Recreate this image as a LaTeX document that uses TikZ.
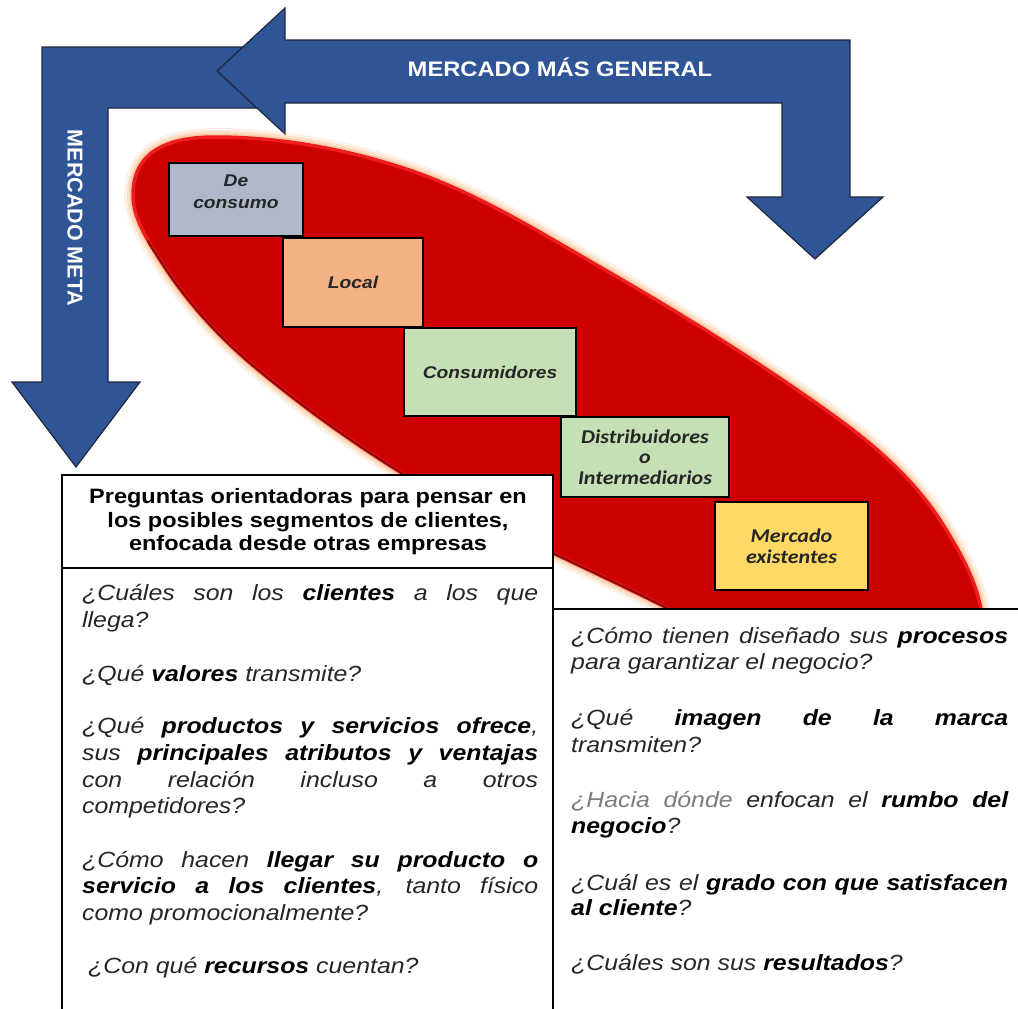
\documentclass[tikz,border=0pt]{standalone}
\usepackage{fontspec}
\newfontfamily\sx[FakeStretch=1.13]{Liberation Sans}
\newfontfamily\sxplain{Liberation Sans}
\newfontfamily\cx[FakeStretch=1.13]{Carlito}
\definecolor{arrowblue}{RGB}{47,85,151}
\definecolor{arrowline}{RGB}{30,40,60}
\definecolor{ovalred}{RGB}{204,0,0}
\definecolor{ovalrim}{RGB}{238,28,28}
\definecolor{ovalshade}{RGB}{110,0,0}
\definecolor{glow}{RGB}{250,185,135}
\definecolor{boxgray}{RGB}{173,185,202}
\definecolor{boxorange}{RGB}{244,177,131}
\definecolor{boxgreen}{RGB}{197,224,180}
\definecolor{boxyellow}{RGB}{255,217,102}
\definecolor{ink}{RGB}{38,38,38}
\definecolor{softink}{RGB}{125,125,125}
% a line of given width (pt) with its spaces stretched
\newcommand\jl[2]{\makebox[#1pt][s]{#2}}
% bold key words
\newcommand\hl[1]{\textbf{\color{black}#1}}
\begin{document}
\begin{tikzpicture}[x=1pt,y=-1pt,
  bluearrow/.style={fill=arrowblue, draw=arrowline, line width=1.2pt, line join=miter},
  segbox/.style={draw=black, line width=1.3pt, inner sep=0pt, align=center, text=ink},
  armfont/.style={font=\sx\bfseries\itshape\fontsize{17}{22}\selectfont},
  calfont/.style={font=\cx\bfseries\itshape\fontsize{19.5}{20.5}\selectfont},
  qframe/.style={draw=black, line width=2.4pt, fill=white},
  qline/.style={anchor=base west, inner sep=0pt, text=ink, font=\sx\itshape\fontsize{22}{26.7}\selectfont},
  headline/.style={anchor=base, inner sep=0pt, text=black, font=\sx\bfseries\fontsize{20.8}{23.5}\selectfont}]
\useasboundingbox (0,0) rectangle (1018,1009);
\clip (0,0) rectangle (1018,1009);

% ---- blue arrows ----
\draw[bluearrow] (42,47) -- (262,47) -- (262,108) -- (108,108) -- (108,382)
  -- (140,382) -- (76,467) -- (12,382) -- (42,382) -- cycle;
\draw[bluearrow] (217,71) -- (285,8) -- (285,40) -- (850,40) -- (850,197)
  -- (883,197) -- (815,259) -- (747,197) -- (782,197) -- (782,103)
  -- (285,103) -- (285,134) -- cycle;
\node[font=\sx\bfseries\fontsize{21}{21}\selectfont, text=white, inner sep=0pt] (general) at (560,67) {MERCADO MÁS GENERAL};
\node[rotate=-90, font=\sxplain\bfseries\fontsize{21.5}{21.5}\selectfont, text=white, inner sep=0pt] (meta) at (75,218) {MERCADO META};

% ---- red oval ----
\path[save path=\ovalp] (133,195)
  .. controls (133,150) and (170,137) .. (215,137)
  .. controls (277,137) and (341,148) .. (400,167)
  .. controls (471,189.5) and (535,229.5) .. (600,267)
  .. controls (679,312.5) and (756,360) .. (830,413)
  .. controls (871.6,442.6) and (912,477) .. (940,520)
  .. controls (961,553) and (983,591) .. (983,630)
  .. controls (983,662) and (932,688) .. (900,688)
  .. controls (818,688) and (740,645) .. (667,608)
  .. controls (578,563) and (485,525) .. (400,472)
  .. controls (347,439) and (297.5,403) .. (250,363)
  .. controls (215,333) and (184.6,299) .. (160,260)
  .. controls (147.7,240.6) and (133,218) .. (133,195) -- cycle;
\draw[use path=\ovalp, draw=glow, line width=18pt, opacity=0.2];
\draw[use path=\ovalp, draw=glow, line width=12pt, opacity=0.35];
\draw[use path=\ovalp, draw=glow, line width=7pt, opacity=0.5];
\fill[use path=\ovalp, fill=ovalred];
\draw[use path=\ovalp, draw=ovalrim, line width=3.5pt];
% darker rim along the lower side
\draw[ovalshade, line width=2pt, opacity=0.75] (147.7,240.6) .. controls (152,248) and (156,254) .. (160,260)
  .. controls (184.6,299) and (215,333) .. (250,363)
  .. controls (297.5,403) and (347,439) .. (400,472)
  .. controls (485,525) and (578,563) .. (667,608)
  .. controls (740,645) and (818,688) .. (900,688);

% ---- market segments ----
\node[segbox, fill=boxgray, minimum width=134pt, minimum height=73pt] (consumo) at (236,199.5) {};
\node[armfont, text=ink, align=center, inner sep=0pt] (consumo-t) at (236,192) {De\\consumo};
\node[segbox, armfont, fill=boxorange, minimum width=140pt, minimum height=89pt] (local) at (353,282.5) {Local};
\node[segbox, armfont, fill=boxgreen, minimum width=172pt, minimum height=88pt] (consumidores) at (490,372) {Consumidores};
\node[segbox, calfont, fill=boxgreen, minimum width=168pt, minimum height=80pt] (distrib) at (645,457) {Distribuidores\\o\\Intermediarios};
\node[segbox, calfont, fill=boxyellow, minimum width=153pt, minimum height=88pt] (mercado) at (791.5,546) {Mercado\\existentes};

% ---- question frames ----
\draw[qframe] (62,475) rectangle (553,568);
\draw[qframe] (62,568) rectangle (553,1025);
\draw[qframe] (553,609) rectangle (1035,1025);

\node[headline] (h1) at (308,503) {Preguntas orientadoras para pensar en};
\node[headline] (h2) at (308,527) {los posibles segmentos de clientes,};
\node[headline] (h3) at (308,550) {enfocada desde otras empresas};

\node[qline] (l1) at (82,600) {\jl{456}{¿Cuáles son los \hl{clientes} a los que}};
\node[qline] (l2) at (82,627) {llega?};
\node[qline] (l3) at (82,681) {¿Qué \hl{valores} transmite?};
\node[qline] (l4) at (82,733) {\jl{456}{¿Qué \hl{productos y servicios ofrece},}};
\node[qline] (l5) at (82,760) {\jl{456}{sus \hl{principales atributos y ventajas}}};
\node[qline] (l6) at (82,787) {\jl{456}{con relación incluso a otros}};
\node[qline] (l7) at (82,813) {competidores?};
\node[qline] (l8) at (82,867) {\jl{456}{¿Cómo hacen \hl{llegar su producto o}}};
\node[qline] (l9) at (82,893) {\jl{456}{\hl{servicio a los clientes}, tanto físico}};
\node[qline] (l10) at (82,920) {como promocionalmente?};
\node[qline] (l11) at (88,973) {¿Con qué \hl{recursos} cuentan?};

\node[qline] (r1) at (571,643) {\jl{437}{¿Cómo tienen diseñado sus \hl{procesos}}};
\node[qline] (r2) at (571,669) {para garantizar el negocio?};
\node[qline] (r3) at (571,725) {\jl{437}{¿Qué \hl{imagen de la marca}}};
\node[qline] (r4) at (571,752) {transmiten?};
\node[qline] (r5) at (571,807) {\jl{437}{{\color{softink}¿Hacia dónde} enfocan el \hl{rumbo del}}};
\node[qline] (r6) at (571,833) {\hl{negocio}?};
\node[qline] (r7) at (571,890) {\jl{437}{¿Cuál es el \hl{grado con que satisfacen}}};
\node[qline] (r8) at (571,915) {\hl{al cliente}?};
\node[qline] (r9) at (571,970) {¿Cuáles son sus \hl{resultados}?};
\end{tikzpicture}
\end{document}
